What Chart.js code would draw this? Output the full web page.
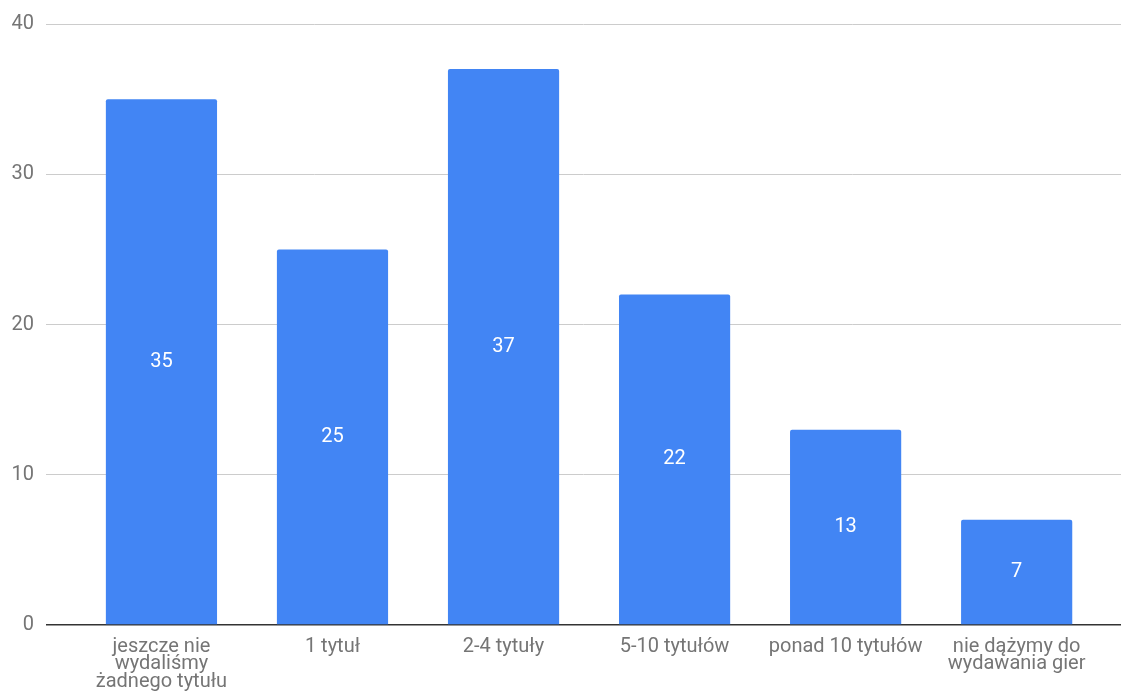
<!DOCTYPE html>
<html>
<head>
<meta charset="utf-8">
<script src="https://cdn.jsdelivr.net/npm/chart.js@4/dist/chart.umd.min.js"></script>
<style>
  html, body { margin: 0; padding: 0; background: #fff; }
  #wrap { width: 1121px; height: 696px; }
</style>
</head>
<body>
<div id="wrap"><canvas id="chart"></canvas></div>
<script>
  const categories = [
    ['jeszcze nie', 'wydaliśmy', 'żadnego tytułu'],
    ['1 tytuł'],
    ['2-4 tytuły'],
    ['5-10 tytułów'],
    ['ponad 10 tytułów'],
    ['nie dążymy do', 'wydawania gier'],
  ];
  const counts = [35, 25, 37, 22, 13, 7];
  const yTicks = [0, 10, 20, 30, 40];

  const FONT = 'Roboto, "Noto Sans", sans-serif';

  // white value labels in the middle of each bar
  const barValues = {
    id: 'barValues',
    afterDatasetsDraw(chart) {
      const { ctx } = chart;
      const meta = chart.getDatasetMeta(0);
      ctx.save();
      ctx.fillStyle = '#ffffff';
      ctx.font = '20px ' + FONT;
      ctx.textAlign = 'center';
      ctx.textBaseline = 'middle';
      meta.data.forEach((bar, i) => {
        const mid = (bar.y + bar.base) / 2;
        ctx.fillText(String(counts[i]), bar.x, mid);
      });
      ctx.restore();
    }
  };

  const points = counts.map((v, i) => ({ x: i, y: v }));

  new Chart(document.getElementById('chart'), {
    type: 'bar',
    data: {
      datasets: [{
        data: points,
        backgroundColor: '#4285f4',
        borderRadius: 2,
        categoryPercentage: 1,
        barPercentage: 0.65,
      }],
    },
    options: {
      responsive: true,
      maintainAspectRatio: false,
      animation: false,
      layout: { padding: { top: 20.5, right: 0, left: 0, bottom: 0 } },
      plugins: { legend: { display: false }, tooltip: { enabled: false } },
      scales: {
        x: {
          type: 'linear',
          offset: false,
          min: -0.675,
          max: 5.61,
          grid: { display: false },
          border: { display: false },
          afterBuildTicks(scale) {
            scale.ticks = categories.map((_, i) => ({ value: i }));
          },
          afterFit(scale) { scale.height = 71; },
          ticks: {
            autoSkip: false,
            maxRotation: 0,
            padding: 5,
            color: '#757575',
            font: { family: FONT, size: 20, lineHeight: 0.87 },
            callback: (v) => categories[v],
          },
        },
        y: {
          min: 0,
          max: 40,
          afterBuildTicks(scale) {
            scale.ticks = yTicks.map(v => ({ value: v }));
          },
          afterFit(scale) { scale.width = 46; },
          border: { display: false },
          grid: {
            drawTicks: false,
            color: (c) => c.tick.value === 0 ? '#333333' : '#cccccc',
            lineWidth: (c) => c.tick.value === 0 ? 1.5 : 1,
          },
          ticks: {
            padding: 12,
            color: '#757575',
            font: { family: FONT, size: 20 },
          },
        },
      },
    },
    plugins: [barValues],
  });
</script>
</body>
</html>
